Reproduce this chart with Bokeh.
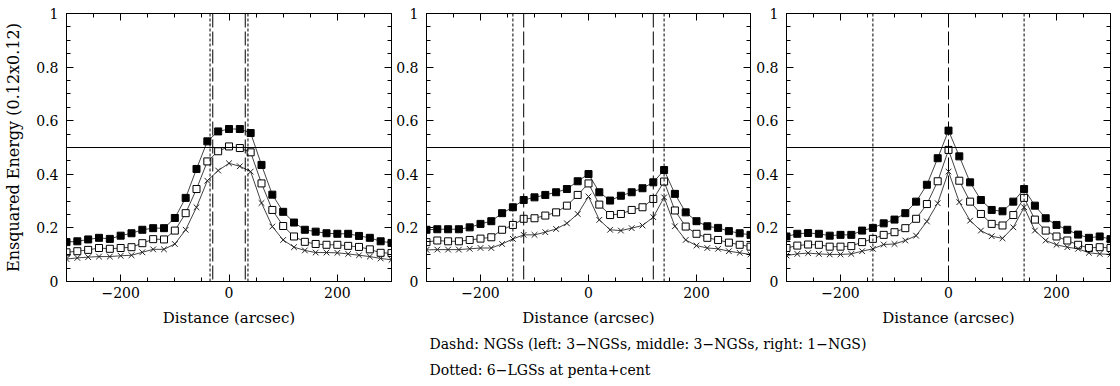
from bokeh.plotting import figure
from bokeh.layouts import row, column
from bokeh.models import Span, LinearAxis, FixedTicker, CustomJSTickFormatter, Range1d, Label
from bokeh.embed import file_html
from bokeh.resources import INLINE

# ---------------- data ----------------
distance = list(range(-300, 301, 20))

left_filled = [0.147, 0.150, 0.157, 0.163, 0.159, 0.171, 0.180, 0.193, 0.199, 0.199, 0.237,
               0.312, 0.420, 0.523, 0.560, 0.569, 0.569, 0.554, 0.435, 0.324, 0.260,
               0.220, 0.193, 0.186, 0.180, 0.178, 0.178, 0.170, 0.163, 0.150, 0.144]
left_open = [0.109, 0.113, 0.118, 0.125, 0.122, 0.125, 0.128, 0.143, 0.158, 0.157, 0.190,
             0.255, 0.345, 0.448, 0.486, 0.504, 0.498, 0.482, 0.366, 0.267, 0.207,
             0.168, 0.148, 0.140, 0.137, 0.137, 0.133, 0.129, 0.120, 0.107, 0.106]
left_cross = [0.084, 0.088, 0.091, 0.093, 0.093, 0.096, 0.098, 0.109, 0.120, 0.120, 0.140,
              0.193, 0.277, 0.376, 0.414, 0.441, 0.430, 0.410, 0.293, 0.205, 0.155,
              0.128, 0.116, 0.108, 0.108, 0.107, 0.103, 0.098, 0.093, 0.086, 0.081]

mid_filled = [0.193, 0.195, 0.195, 0.195, 0.202, 0.215, 0.225, 0.255, 0.277, 0.304, 0.314,
              0.323, 0.333, 0.345, 0.374, 0.401, 0.333, 0.302, 0.320, 0.333, 0.348,
              0.370, 0.416, 0.327, 0.258, 0.225, 0.206, 0.200, 0.188, 0.180, 0.174]
mid_open = [0.147, 0.153, 0.150, 0.150, 0.155, 0.160, 0.165, 0.193, 0.211, 0.234, 0.236,
            0.246, 0.258, 0.283, 0.323, 0.366, 0.287, 0.248, 0.252, 0.267, 0.277,
            0.308, 0.373, 0.265, 0.205, 0.178, 0.163, 0.155, 0.145, 0.137, 0.130]
mid_cross = [0.118, 0.119, 0.119, 0.119, 0.122, 0.125, 0.125, 0.140, 0.159, 0.174, 0.174,
             0.184, 0.196, 0.217, 0.252, 0.317, 0.230, 0.193, 0.190, 0.199, 0.209,
             0.240, 0.314, 0.206, 0.155, 0.134, 0.125, 0.122, 0.113, 0.107, 0.101]

right_filled = [0.168, 0.178, 0.181, 0.178, 0.171, 0.174, 0.174, 0.190, 0.200, 0.217, 0.231,
                0.255, 0.298, 0.361, 0.460, 0.563, 0.467, 0.370, 0.304, 0.267, 0.262,
                0.298, 0.345, 0.283, 0.236, 0.211, 0.193, 0.175, 0.163, 0.168, 0.158]
right_open = [0.125, 0.134, 0.138, 0.137, 0.130, 0.130, 0.132, 0.147, 0.159, 0.174, 0.184,
              0.199, 0.234, 0.289, 0.374, 0.491, 0.376, 0.298, 0.252, 0.215, 0.209,
              0.248, 0.312, 0.231, 0.190, 0.168, 0.153, 0.137, 0.125, 0.128, 0.125]
right_cross = [0.097, 0.103, 0.106, 0.103, 0.101, 0.101, 0.103, 0.113, 0.122, 0.138, 0.140,
               0.153, 0.171, 0.224, 0.292, 0.410, 0.296, 0.227, 0.190, 0.169, 0.161,
               0.202, 0.277, 0.190, 0.153, 0.137, 0.128, 0.122, 0.107, 0.103, 0.101]

ngs_left, lgs_left = [-30, 30], [-35, 35]
ngs_mid, lgs_mid = [-120, 120], [-140, 140]
ngs_right, lgs_right = [0], [-140, 140]
threshold = 0.5

x_major = [-200, 0, 200]
x_minor = list(range(-300, 301, 50))
y_major = [0, 0.2, 0.4, 0.6, 0.8, 1.0]
y_minor = [i * 0.05 for i in range(21)]

xlabel = "Distance (arcsec)"
ylabel = "Ensquared Energy (0.12x0.12)"
note1 = "Dashd: NGSs (left: 3\u2212NGSs, middle: 3\u2212NGSs, right: 1\u2212NGS)"
note2 = "Dotted: 6\u2212LGSs at penta+cent"

FONT = "DejaVu Serif"

xfmt = CustomJSTickFormatter(code="return (tick < 0 ? '\\u2212' : '') + Math.abs(tick).toFixed(0);")
yfmt = CustomJSTickFormatter(code="if (Math.abs(tick) < 1e-9) return '0'; if (Math.abs(tick-1) < 1e-9) return '1'; return tick.toFixed(1);")


def style_axis(ax, ticker, show_labels, fmt, standoff=7):
    ax.ticker = ticker
    ax.major_tick_in = 7
    ax.major_tick_out = 0
    ax.minor_tick_in = 4
    ax.minor_tick_out = 0
    ax.axis_line_color = "black"
    ax.major_tick_line_color = "black"
    ax.minor_tick_line_color = "black"
    if show_labels:
        ax.formatter = fmt
        ax.major_label_text_font = FONT
        ax.major_label_text_font_size = "14px"
        ax.major_label_text_color = "black"
        ax.major_label_standoff = standoff
    else:
        ax.major_label_text_font_size = "0px"
        ax.major_label_standoff = 0
        ax.major_label_text_alpha = 0


def make_panel(filled, opn, cross, ngs, lgs, left, right, ylab=None):
    p = figure(frame_width=324 if ylab is None else 325, frame_height=268,
               x_range=Range1d(-300, 300), y_range=Range1d(0, 1),
               output_backend="svg", toolbar_location=None,
               min_border_left=left, min_border_right=right, min_border_top=13,
               min_border_bottom=50)
    p.grid.visible = False
    p.outline_line_color = "black"
    p.background_fill_color = "white"
    p.border_fill_color = "white"

    xt = FixedTicker(ticks=x_major, minor_ticks=x_minor)
    yt = FixedTicker(ticks=y_major, minor_ticks=y_minor)
    style_axis(p.xaxis[0], xt, True, xfmt, standoff=5)
    style_axis(p.yaxis[0], yt, True, yfmt, standoff=8)
    p.xaxis.axis_label = xlabel
    p.xaxis.axis_label_text_font = FONT
    p.xaxis.axis_label_text_font_size = "15px"
    p.xaxis.axis_label_text_font_style = "normal"
    p.xaxis.axis_label_text_color = "black"
    p.xaxis.axis_label_standoff = 8
    if ylab:
        p.yaxis.axis_label = ylab
        p.yaxis.axis_label_text_font = FONT
        p.yaxis.axis_label_text_font_size = "16px"
        p.yaxis.axis_label_text_font_style = "normal"
        p.yaxis.axis_label_text_color = "black"
        p.yaxis.axis_label_standoff = 10

    top = LinearAxis()
    style_axis(top, FixedTicker(ticks=x_major, minor_ticks=x_minor), False, None)
    p.add_layout(top, "above")
    rt = LinearAxis()
    style_axis(rt, FixedTicker(ticks=y_major, minor_ticks=y_minor), False, None)
    p.add_layout(rt, "right")

    p.add_layout(Span(location=threshold, dimension="width", line_color="black", line_width=1))
    for v in lgs:
        p.add_layout(Span(location=v, dimension="height", line_color="black", line_width=1,
                          line_dash="3 2"))
    for v in ngs:
        p.add_layout(Span(location=v, dimension="height", line_color="black", line_width=1,
                          line_dash="14 4"))

    p.line(distance, filled, line_color="#444444", line_width=1)
    p.line(distance, opn, line_color="#444444", line_width=1)
    p.line(distance, cross, line_color="#444444", line_width=1)
    p.scatter(distance, filled, marker="square", size=7, fill_color="black", line_color="black")
    p.scatter(distance, opn, marker="square", size=7, fill_color="white", line_color="black",
              line_width=1)
    p.scatter(distance, cross, marker="x", size=8, line_color="#222222", line_width=1)
    return p


p1 = make_panel(left_filled, left_open, left_cross, ngs_left, lgs_left, left=66, right=1,
                ylab=ylabel)
p2 = make_panel(mid_filled, mid_open, mid_cross, ngs_mid, lgs_mid, left=34, right=1)
p3 = make_panel(right_filled, right_open, right_cross, ngs_right, lgs_right, left=35, right=2)

# notes below the panels
pn = figure(width=1112, height=50, x_range=Range1d(0, 1), y_range=Range1d(0, 1),
            output_backend="svg", toolbar_location=None, x_axis_type=None, y_axis_type=None,
            min_border=0)
pn.grid.visible = False
pn.outline_line_color = None
for txt, yy in ((note1, 38), (note2, 12)):
    pn.add_layout(Label(x=429, y=yy, x_units="screen", y_units="screen", text=txt,
                        text_font=FONT, text_font_size="14px", text_color="black",
                        text_align="left", text_baseline="middle"))

layout = column(row(p1, p2, p3, spacing=0), pn, spacing=0)

open("out.html", "w").write(file_html(layout, INLINE))
